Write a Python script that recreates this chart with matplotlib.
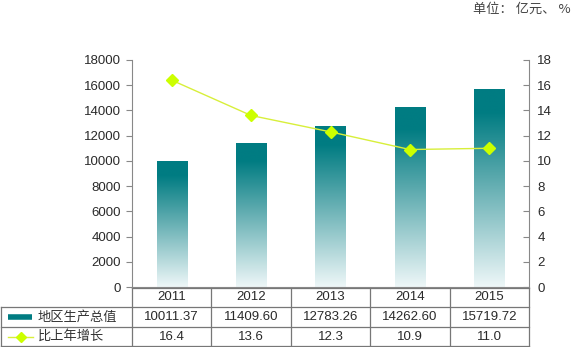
import matplotlib.pyplot as plt
import numpy as np
from matplotlib.colors import LinearSegmentedColormap

plt.rcParams['font.family'] = ['Liberation Sans', 'Noto Sans CJK SC', 'DejaVu Sans']

years = ['2011', '2012', '2013', '2014', '2015']
gdp = [10011.37, 11409.60, 12783.26, 14262.60, 15719.72]
growth = [16.4, 13.6, 12.3, 10.9, 11.0]
gdp_labels = ['10011.37', '11409.60', '12783.26', '14262.60', '15719.72']
growth_labels = ['16.4', '13.6', '12.3', '10.9', '11.0']
row_names = ['地区生产总值', '比上年增长']

W, H = 572, 347
fig = plt.figure(figsize=(W / 100, H / 100), dpi=100)

# plot area in pixels
x0, x1 = 132, 529
ytop, ybot = 60, 287
ax = fig.add_axes([x0 / W, 1 - ybot / H, (x1 - x0) / W, (ybot - ytop) / H])
ax2 = ax.twinx()

teal = '#007c82'
pale = '#eef7f8'
cmap = LinearSegmentedColormap.from_list(
    'bar', [(0, pale), (0.55, '#5aa9ad'), (0.88, teal), (1, teal)])
grad = np.linspace(0, 1, 256).reshape(-1, 1)

xs = np.arange(len(years))
bars = ax.bar(xs, gdp, width=0.38, color='none', edgecolor='none', zorder=2)
for b in bars:
    im = ax.imshow(grad, cmap=cmap, origin='lower', aspect='auto',
                   extent=[b.get_x(), b.get_x() + b.get_width(), 0, b.get_height()],
                   zorder=2)
    im.set_clip_path(b)

ax.set_xlim(-0.5, len(years) - 0.5)
ax.set_ylim(0, 18000)
ax.set_yticks(range(0, 18001, 2000))
ax2.set_ylim(0, 18)
ax2.set_yticks(range(0, 19, 2))

ax2.plot(xs, growth, color='#d8ef3a', lw=1.0, marker='D', ms=6,
         mfc='#ccff00', mec='#ccff00', zorder=5)

for a in (ax, ax2):
    for s in a.spines.values():
        s.set_visible(False)
    a.tick_params(labelsize=9.5, colors='#888888', labelcolor='#2a2a2a',
                  length=4, width=0.8)
ax.spines['left'].set_visible(True)
ax.spines['left'].set_color('#888888')
ax.spines['bottom'].set_visible(True)
ax.spines['bottom'].set_color('#888888')
ax2.spines['right'].set_visible(True)
ax2.spines['right'].set_color('#888888')
ax.tick_params(axis='y', direction='out', pad=4)
ax2.tick_params(axis='y', direction='in', pad=6)
ax.set_xticks([])

# data table under the plot, drawn in pixel coordinates
tab = fig.add_axes([0, 0, 1, 1], zorder=-1)
tab.set_xlim(0, W)
tab.set_ylim(H, 0)
tab.axis('off')
ax.patch.set_alpha(0)

rows = [288, 307, 327, 346]
col = [x0 + (x1 - x0) * k / len(years) for k in range(len(years) + 1)]
lc = '#777777'
tab.plot([x0, x1], [rows[0]] * 2, color=lc, lw=0.9)
for r in rows[1:]:
    tab.plot([1, x1], [r, r], color=lc, lw=0.9)
tab.plot([1, 1], [rows[1], rows[3]], color=lc, lw=0.9)
for c in col:
    tab.plot([c, c], [rows[0], rows[3]], color=lc, lw=0.9)

for k, yr in enumerate(years):
    cx = (col[k] + col[k + 1]) / 2
    tab.text(cx, (rows[0] + rows[1]) / 2, yr, ha='center', va='center',
             fontsize=9.5, color='#2a2a2a')
    tab.text(cx, (rows[1] + rows[2]) / 2, gdp_labels[k], ha='center', va='center',
             fontsize=9.5, color='#2a2a2a')
    tab.text(cx, (rows[2] + rows[3]) / 2, growth_labels[k], ha='center', va='center',
             fontsize=9.5, color='#2a2a2a')

# legend keys inside the table
ym1 = (rows[1] + rows[2]) / 2
ym2 = (rows[2] + rows[3]) / 2
tab.plot([8, 32], [ym1, ym1], color=teal, lw=4, solid_capstyle='butt')
tab.plot([8, 33], [ym2, ym2], color='#d8ef3a', lw=1)
tab.plot([20.5], [ym2], marker='D', ms=5, color='#ccff00')
tab.text(38, ym1, row_names[0], ha='left', va='center', fontsize=9.5,
         color='#333333', family=['Noto Sans CJK SC'])
tab.text(38, ym2, row_names[1], ha='left', va='center', fontsize=9.5,
         color='#333333', family=['Noto Sans CJK SC'])

fig.text(1 - 1 / W, 1 - 9 / H, '单位： 亿元、 %', ha='right', va='center',
         fontsize=9.5, color='#444444', family=['Noto Sans CJK SC'])

fig.savefig('out.png', dpi=100)
